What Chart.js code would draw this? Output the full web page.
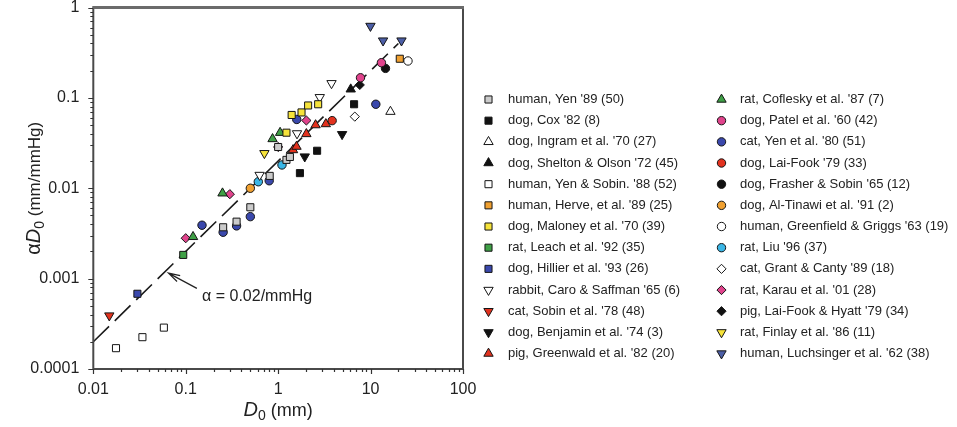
<!DOCTYPE html>
<html>
<head>
<meta charset="utf-8">
<script src="https://cdn.jsdelivr.net/npm/chart.js@4/dist/chart.umd.min.js"></script>
<style>
  html, body { margin: 0; padding: 0; background: #ffffff; }
  #wrap { width: 957px; height: 427px; }
</style>
</head>
<body>
<div id="wrap"><canvas id="c" width="957" height="427"></canvas></div>
<script>
// ---- data: [D0 (mm), alpha*D0 (mm/mmHg)] per study ----
const humanYen89       = [[0.254, 0.0037], [0.355, 0.00427], [0.50, 0.00616], [0.81, 0.0137], [1.0, 0.0286], [1.23, 0.0206], [1.34, 0.0222]];
const dogCox82         = [[1.72, 0.0147], [2.64, 0.026], [6.63, 0.085]];
const dogIngram70      = [[16.4, 0.0704]];
const dogShelton72     = [[6.1, 0.1245]];
const humanYenSobin88  = [[0.0176, 0.00017], [0.034, 0.000225], [0.058, 0.000287]];
const humanHerve89     = [[20.7, 0.271]];
const dogMaloney70     = [[1.23, 0.0412], [1.40, 0.0647], [1.79, 0.069], [2.11, 0.0824], [2.71, 0.085]];
const ratLeach92       = [[0.094, 0.00183]];
const dogHillier93     = [[0.03, 0.00068]];
const rabbitCaro65     = [[0.63, 0.014], [1.60, 0.0404], [2.82, 0.1016], [3.78, 0.145]];
const catSobin78       = [[0.0149, 0.00039]];
const dogBenjamin74    = [[1.94, 0.0224], [4.92, 0.0396]];
const pigGreenwald82   = [[1.45, 0.0265], [1.58, 0.0289], [2.02, 0.0399], [2.54, 0.050], [3.28, 0.0514]];
const ratCoflesky87    = [[0.12, 0.0029], [0.25, 0.0088], [0.87, 0.0351], [1.05, 0.0412]];
const dogPatel60       = [[7.78, 0.167], [13.1, 0.245]];
const catYen80         = [[0.15, 0.0039], [0.254, 0.00326], [0.355, 0.00383], [0.50, 0.00485], [0.80, 0.0121], [1.59, 0.0577], [11.4, 0.085]];
const dogLaiFook79     = [[3.84, 0.056]];
const dogFrasher65     = [[14.5, 0.212]];
const dogAlTinawi91    = [[0.50, 0.0100]];
const humanGreenfield63 = [[25.4, 0.256]];
const ratLiu96         = [[0.61, 0.0118], [1.10, 0.0181]];
const catGrant89       = [[6.75, 0.062]];
const ratKarau01       = [[0.10, 0.0028], [0.30, 0.0086], [1.0, 0.0286], [2.02, 0.0562]];
const pigLaiFookHyatt79 = [[7.64, 0.139]];
const ratFinlay86      = [[0.71, 0.0244]];
const humanLuchsinger62 = [[9.97, 0.624], [13.65, 0.43], [21.6, 0.43]];

const seriesLabels = [
  "human, Yen '89 (50)", "dog, Cox '82 (8)", "dog, Ingram et al. '70 (27)",
  "dog, Shelton & Olson '72 (45)", "human, Yen & Sobin. '88 (52)", "human, Herve, et al. '89 (25)",
  "dog, Maloney et al. '70 (39)", "rat, Leach et al. '92 (35)", "dog, Hillier et al. '93 (26)",
  "rabbit, Caro & Saffman '65 (6)", "cat, Sobin et al. '78 (48)", "dog, Benjamin et al. '74 (3)",
  "pig, Greenwald et al. '82 (20)", "rat, Coflesky et al. '87 (7)", "dog, Patel et al. '60 (42)",
  "cat, Yen et al. '80 (51)", "dog, Lai-Fook '79 (33)", "dog, Frasher & Sobin '65 (12)",
  "dog, Al-Tinawi et al. '91 (2)", "human, Greenfield & Griggs '63 (19)", "rat, Liu '96 (37)",
  "cat, Grant & Canty '89 (18)", "rat, Karau et al. '01 (28)", "pig, Lai-Fook & Hyatt '79 (34)",
  "rat, Finlay et al. '86 (11)", "human, Luchsinger et al. '62 (38)"
];
const seriesValues = [
  humanYen89, dogCox82, dogIngram70, dogShelton72, humanYenSobin88, humanHerve89,
  dogMaloney70, ratLeach92, dogHillier93, rabbitCaro65, catSobin78, dogBenjamin74,
  pigGreenwald82, ratCoflesky87, dogPatel60, catYen80, dogLaiFook79, dogFrasher65,
  dogAlTinawi91, humanGreenfield63, ratLiu96, catGrant89, ratKarau01, pigLaiFookHyatt79,
  ratFinlay86, humanLuchsinger62
];

// axis decades and their labels
const xTicks = [0.01, 0.1, 1, 10, 100];
const xTickLabels = ['0.01', '0.1', '1', '10', '100'];
const yTicks = [0.0001, 0.001, 0.01, 0.1, 1];
const yTickLabels = ['0.0001', '0.001', '0.01', '0.1', '1'];

// reference line alphaD0 = alpha * D0
const alpha = 0.02;
const refLineD0 = [0.01, 20];
const alphaLabel = '\u03b1 = 0.02/mmHg';

// ---- marker styles, one per study ----
const WHITE = '#ffffff', BLACK = '#111111', GREY = '#cbcbcb', ORANGE = '#f0a030',
      YELLOW = '#f6e33a', GREEN = '#3fa046', BLUE = '#3a48ac', RED = '#e2321e',
      PINK = '#e0438c', CYAN = '#3ab6e6', SLATE = '#4c5ea6';
const markerStyles = [
  ['rect', GREY], ['rect', BLACK], ['triangle', WHITE], ['triangle', BLACK],
  ['rect', WHITE], ['rect', ORANGE], ['rect', YELLOW], ['rect', GREEN], ['rect', BLUE],
  ['down', WHITE], ['down', RED], ['down', BLACK], ['triangle', RED], ['triangle', GREEN],
  ['circle', PINK], ['circle', BLUE], ['circle', RED], ['circle', BLACK], ['circle', ORANGE],
  ['circle', WHITE], ['circle', CYAN], ['rectRot', WHITE], ['rectRot', PINK], ['rectRot', BLACK],
  ['down', YELLOW], ['down', SLATE]
];
const shapeRadius = { rect: 5, circle: 4.2, triangle: 5.4, down: 5.4, rectRot: 4.6 };

function pointOpts(shape, fill) {
  return {
    pointStyle: shape === 'down' ? 'triangle' : shape,
    rotation: shape === 'down' ? 180 : 0,
    radius: shapeRadius[shape],
    backgroundColor: fill,
    borderColor: '#151515',
    borderWidth: 1
  };
}

const datasets = seriesValues.map((vals, i) => {
  const o = pointOpts(markerStyles[i][0], markerStyles[i][1]);
  return {
    label: seriesLabels[i],
    data: vals.map(p => ({ x: p[0], y: p[1] })),
    pointStyle: o.pointStyle,
    rotation: o.rotation,
    pointRadius: o.radius,
    backgroundColor: o.backgroundColor,
    borderColor: o.borderColor,
    borderWidth: o.borderWidth,
    clip: false
  };
});
// dashed reference line, last so it is painted beneath the markers
datasets.push({
  label: 'alpha',
  data: refLineD0.map(d => ({ x: d, y: alpha * d })),
  showLine: true,
  pointRadius: 0,
  borderColor: '#1a1a1a',
  borderWidth: 1.6,
  borderDash: [22, 8],
  fill: false,
  clip: false
});

const FONT = '"Liberation Sans", Arial, Helvetica, sans-serif';
const TEXT = '#222222';

function drawRich(ctx, parts, cx, baseY) {
  let total = 0;
  parts.forEach(p => { ctx.font = p.font; p.w = ctx.measureText(p.text).width; total += p.w; });
  let x = cx - total / 2;
  ctx.textAlign = 'left';
  ctx.textBaseline = 'alphabetic';
  parts.forEach(p => { ctx.font = p.font; ctx.fillText(p.text, x, baseY + (p.dy || 0)); x += p.w; });
}

const decorations = {
  id: 'decorations',
  afterDraw(chart) {
    const ctx = chart.ctx, a = chart.chartArea;
    const xs = chart.scales.x, ys = chart.scales.y;
    ctx.save();

    // plot frame
    ctx.strokeStyle = '#4a4a4a';
    ctx.lineWidth = 2;
    ctx.beginPath();
    ctx.moveTo(a.right, a.top); ctx.lineTo(a.right, a.bottom);
    ctx.lineTo(a.left, a.bottom); ctx.lineTo(a.left, a.top);
    ctx.stroke();
    ctx.strokeStyle = '#6b6b6b';
    ctx.lineWidth = 3;
    ctx.beginPath(); ctx.moveTo(a.left - 1, a.top); ctx.lineTo(a.right + 1, a.top); ctx.stroke();

    // major and minor tick marks
    ctx.strokeStyle = '#333333';
    ctx.lineWidth = 1.2;
    ctx.beginPath();
    xTicks.forEach((d, k) => {
      for (let m = 1; m <= 9; m++) {
        if (k === xTicks.length - 1 && m > 1) break;
        const px = Math.round(xs.getPixelForValue(m * d)) + 0.5;
        const len = m === 1 ? 5 : 3;
        ctx.moveTo(px, a.bottom); ctx.lineTo(px, a.bottom + len);
      }
    });
    yTicks.forEach((d, k) => {
      for (let m = 1; m <= 9; m++) {
        if (k === yTicks.length - 1 && m > 1) break;
        const py = Math.round(ys.getPixelForValue(m * d)) + 0.5;
        const len = m === 1 ? 5 : 3;
        ctx.moveTo(a.left, py); ctx.lineTo(a.left - len, py);
      }
    });
    ctx.stroke();

    // tick labels
    ctx.fillStyle = TEXT;
    ctx.font = '16px ' + FONT;
    ctx.textAlign = 'center';
    ctx.textBaseline = 'middle';
    xTicks.forEach((v, i) => ctx.fillText(xTickLabels[i], xs.getPixelForValue(v), a.bottom + 21));
    ctx.textAlign = 'right';
    yTicks.forEach((v, i) => ctx.fillText(yTickLabels[i], a.left - 14, ys.getPixelForValue(v)));

    // axis titles
    drawRich(ctx, [
      { text: 'D', font: 'italic 20px ' + FONT },
      { text: '0', font: '14px ' + FONT, dy: 4 },
      { text: ' (mm)', font: '18px ' + FONT }
    ], (a.left + a.right) / 2, a.bottom + 47);

    ctx.save();
    ctx.translate(40, (a.top + a.bottom) / 2);
    ctx.rotate(-Math.PI / 2);
    drawRich(ctx, [
      { text: '\u03b1', font: '20px ' + FONT },
      { text: 'D', font: 'italic 20px ' + FONT },
      { text: '0', font: '14px ' + FONT, dy: 4 },
      { text: ' (mm/mmHg)', font: '17px ' + FONT }
    ], 0, 0);
    ctx.restore();

    // annotation of the reference slope
    const tipX = xs.getPixelForValue(0.065), tipY = ys.getPixelForValue(0.00115);
    const tailX = xs.getPixelForValue(0.132), tailY = ys.getPixelForValue(0.00078);
    ctx.strokeStyle = '#222222';
    ctx.lineWidth = 1.2;
    ctx.beginPath();
    ctx.moveTo(tailX, tailY); ctx.lineTo(tipX, tipY);
    const ang = Math.atan2(tailY - tipY, tailX - tipX);
    const barb = 12, spread = 0.28;
    ctx.moveTo(tipX + barb * Math.cos(ang + spread), tipY + barb * Math.sin(ang + spread));
    ctx.lineTo(tipX, tipY);
    ctx.lineTo(tipX + barb * Math.cos(ang - spread), tipY + barb * Math.sin(ang - spread));
    ctx.stroke();
    ctx.fillStyle = TEXT;
    ctx.font = '16px ' + FONT;
    ctx.textAlign = 'left';
    ctx.textBaseline = 'middle';
    ctx.fillText(alphaLabel, xs.getPixelForValue(0.15), ys.getPixelForValue(0.000628));

    // two-column legend
    const rowsPerCol = 13;
    const colMarkerX = [488.5, 721.5];
    const colTextX = [508, 740];
    const row0 = 99.5, rowStep = 21.17;
    ctx.font = '13px ' + FONT;
    ctx.textBaseline = 'middle';
    seriesLabels.forEach((label, i) => {
      const col = Math.floor(i / rowsPerCol), row = i % rowsPerCol;
      const y = row0 + row * rowStep;
      const o = pointOpts(markerStyles[i][0], markerStyles[i][1]);
      ctx.fillStyle = o.backgroundColor;
      ctx.strokeStyle = o.borderColor;
      ctx.lineWidth = o.borderWidth;
      Chart.helpers.drawPoint(ctx, o, colMarkerX[col], y);
      ctx.fillStyle = TEXT;
      ctx.fillText(label, colTextX[col], y);
    });

    ctx.restore();
  }
};

new Chart(document.getElementById('c'), {
  type: 'scatter',
  data: { datasets },
  options: {
    responsive: false,
    devicePixelRatio: 1,
    animation: false,
    events: [],
    layout: { padding: { top: 7.5, right: 494, left: 0, bottom: 0 } },
    plugins: { legend: { display: false }, tooltip: { enabled: false } },
    scales: {
      x: {
        type: 'logarithmic', position: 'bottom', min: 0.01, max: 100,
        ticks: { display: false }, grid: { display: false }, border: { display: false },
        afterFit(s) { s.height = 58; }
      },
      y: {
        type: 'logarithmic', position: 'left', min: 0.0001, max: 1,
        ticks: { display: false }, grid: { display: false }, border: { display: false },
        afterFit(s) { s.width = 93.3; }
      }
    }
  },
  plugins: [decorations]
});
</script>
</body>
</html>
